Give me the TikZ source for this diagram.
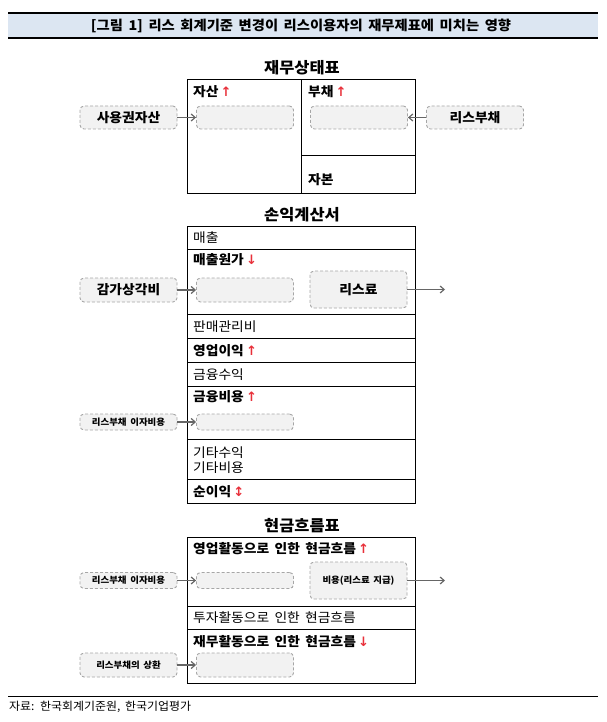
\documentclass[tikz,border=0pt]{standalone}
\usepackage{fontspec}
\setmainfont{Noto Sans CJK KR}[WordSpace=1.7, FakeStretch=1.06]
\newfontfamily\arrfont{DejaVu Sans}
\usetikzlibrary{arrows.meta}
\definecolor{barfill}{HTML}{DCE6F2}
\definecolor{boxfill}{HTML}{F2F2F2}
\definecolor{boxline}{HTML}{A6A6A6}
\definecolor{arrgray}{HTML}{666666}
\definecolor{upred}{HTML}{E8303A}
\newcommand{\upar}{{\arrfont\color{upred}\,↑}}
\newcommand{\dnar}{{\arrfont\color{upred}\,↓}}
\newcommand{\udar}{{\arrfont\color{upred}\,↕}}
\tikzset{
  dbox/.style={draw=boxline, fill=boxfill, dashed, dash pattern=on 3pt off 2pt,
    line width=0.9pt, rounded corners=4pt, inner sep=0pt, minimum width=97pt},
  lbl/.style={font=\fontsize{13}{14}\selectfont\bfseries},
  slbl/.style={font=\fontsize{8.9}{10}\selectfont\bfseries},
  conn/.style={draw=arrgray, line width=1.2pt, -{Straight Barb[length=4pt,width=7pt]}},
  tbl/.style={line width=1pt},
  cell/.style={anchor=west, inner sep=0pt, font=\fontsize{13}{15}\selectfont},
  bcell/.style={cell, font=\fontsize{13}{15}\selectfont\bfseries},
  sect/.style={font=\fontsize{15.5}{17}\selectfont\bfseries},
}
\begin{document}
\begin{tikzpicture}[x=1pt,y=-1pt]
\useasboundingbox (0,0) rectangle (606,722);
% title bar
\fill[barfill] (8,13) rectangle (598,38);
\draw[line width=1.4pt] (8,13) -- (598,13);
\draw[line width=1.2pt] (8,38) -- (598,38);
\node[font=\fontsize{13.5}{15}\selectfont\bfseries] (title) at (301,25.5) {[그림 1] 리스 회계기준 변경이 리스이용자의 재무제표에 미치는 영향};

% ---------- balance sheet
\node[sect] (bs) at (302,68) {재무상태표};
\draw[tbl] (187,80) rectangle (415,193);
\draw[tbl] (301,80) -- (301,193);
\draw[tbl] (301,156) -- (415,156);
\node[bcell] (asset) at (193,92) {자산\upar};
\node[bcell] (liab) at (308,92) {부채\upar};
\node[bcell] (equity) at (308,180) {자본};
\node[dbox, minimum height=23pt] (a1) at (245,117.5) {};
\node[dbox, minimum height=23pt] (l1) at (359,117.5) {};
\node[dbox, minimum height=23pt, lbl] (rou) at (128.5,117.5) {사용권자산};
\node[dbox, minimum height=23pt, lbl] (ll) at (475,117.5) {리스부채};
\draw[conn] (rou.east) -- (a1.west);
\draw[conn] (ll.west) -- (l1.east);

% ---------- income statement
\node[sect] (is) at (302,215) {손익계산서};
\draw[tbl] (187,226) rectangle (415,503);
\foreach \yy in {249,314,338,362,386,439,479} \draw[tbl] (187,\yy) -- (415,\yy);
\node[cell] (sales) at (193,238) {매출};
\node[bcell] (cogs) at (193,260) {매출원가\dnar};
\node[cell] (sga) at (193,327) {판매관리비};
\node[bcell] (oi) at (193,351) {영업이익\upar};
\node[cell] (fin) at (193,375) {금융수익};
\node[bcell] (fc) at (193,397) {금융비용\upar};
\node[cell, align=left] (oth) at (193,460.5) {기타수익\\기타비용};
\node[bcell] (ni) at (193,492) {순이익\udar};
\node[dbox, minimum height=24pt] (c1) at (245,290) {};
\node[dbox, minimum height=24pt, lbl] (dep) at (128.5,290) {감가상각비};
\node[dbox, minimum height=37pt, lbl] (lease) at (358.5,289.5) {리스료};
\coordinate (e1) at (445,289.5);
\draw[conn] (dep.east) -- (c1.west);
\draw[conn] (lease.east) -- (e1);
\node[dbox, minimum height=16pt] (f1) at (245,422) {};
\node[dbox, minimum height=16pt, slbl] (int1) at (128.5,422) {리스부채 이자비용};
\draw[conn] (int1.east) -- (f1.west);

% ---------- cash flow statement
\node[sect] (cf) at (302,526) {현금흐름표};
\draw[tbl] (187,537) rectangle (415,683);
\draw[tbl] (187,606) -- (415,606);
\draw[tbl] (187,629) -- (415,629);
\node[bcell] (ocf) at (193,549) {영업활동으로 인한 현금흐름\upar};
\node[cell] (icf) at (193,618) {투자활동으로 인한 현금흐름};
\node[bcell] (fcf) at (193,642) {재무활동으로 인한 현금흐름\dnar};
\node[dbox, minimum height=16pt] (o1) at (245,580.5) {};
\node[dbox, minimum height=16pt, slbl] (int2) at (128.5,580.5) {리스부채 이자비용};
\node[dbox, minimum height=37pt, slbl] (pay) at (358.5,580.5) {비용(리스료 지급)};
\coordinate (e2) at (445,580.5);
\draw[conn] (int2.east) -- (o1.west);
\draw[conn] (pay.east) -- (e2);
\node[dbox, minimum height=24pt] (r1) at (245,665) {};
\node[dbox, minimum height=24pt, slbl] (rep) at (128.5,665) {리스부채의 상환};
\draw[conn] (rep.east) -- (r1.west);

% footer
\draw[line width=0.8pt] (8,696) -- (598,696);
\node[anchor=west, inner sep=0pt, font=\fontsize{11.3}{13}\selectfont] (src) at (9,707) {자료: 한국회계기준원, 한국기업평가};
\end{tikzpicture}
\end{document}
